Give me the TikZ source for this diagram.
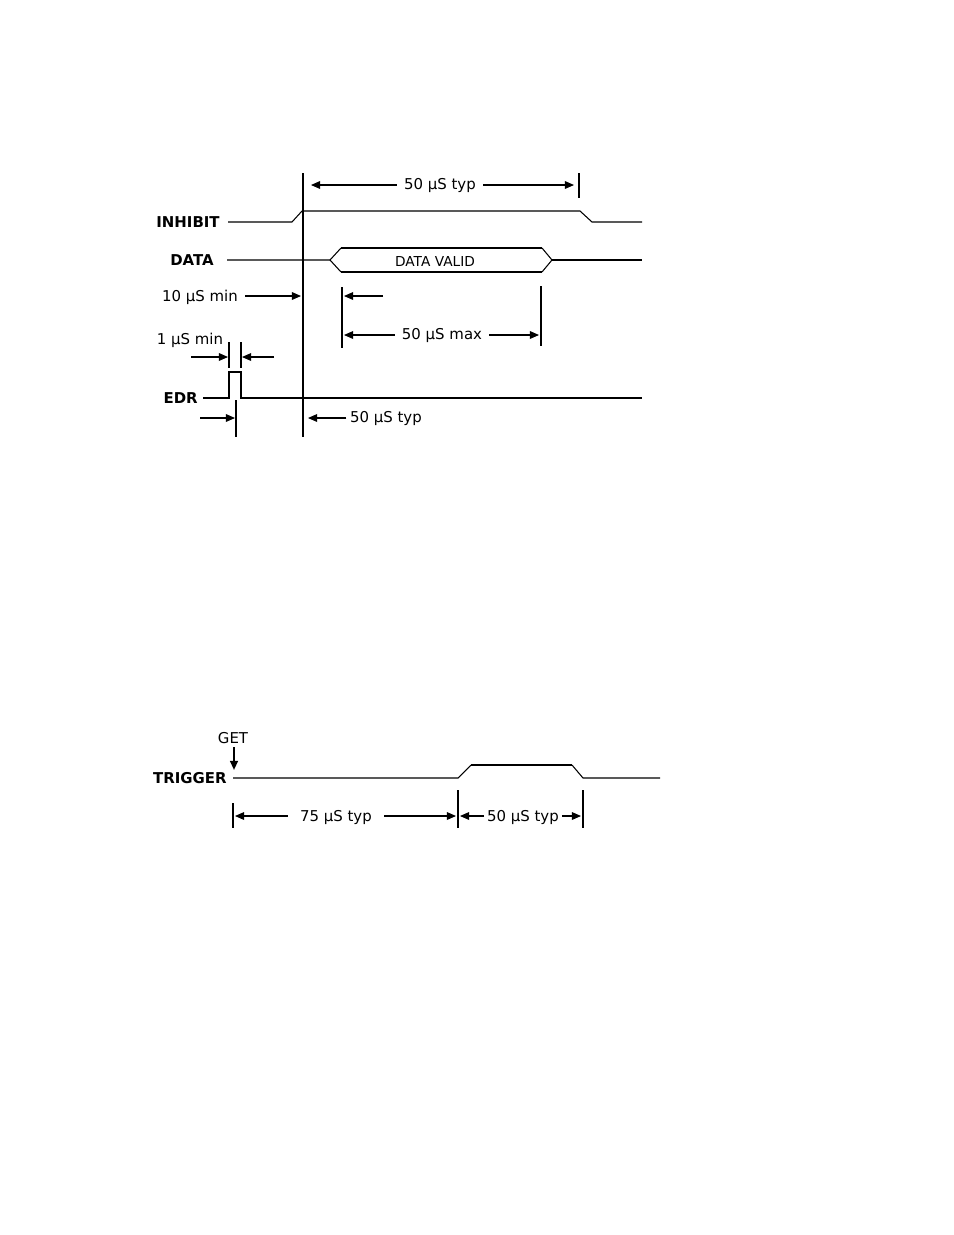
\documentclass[tikz,border=0pt]{standalone}
\usepackage{fontspec}
\setmainfont{DejaVu Sans}
\usetikzlibrary{arrows.meta}
\usetikzlibrary{positioning}

\begin{document}
\begin{tikzpicture}[x=0.02cm,y=-0.02cm,>={Triangle[length=5.2pt,width=4.4pt]},
  wire/.style={line width=0.6pt},
  heavy/.style={line width=1.13pt},
  sig/.style={font=\bfseries\fontsize{8.5}{10}\selectfont,anchor=east,inner sep=0pt},
  lab/.style={font=\fontsize{8.5}{10}\selectfont,inner xsep=4pt,inner ysep=0pt},
  dim/.style={wire,->}]

\useasboundingbox (0,0) rectangle (954,1235);

% inhibit, data, edr
\draw[heavy] (303,173) coordinate (zero) -- (303,437) coordinate (zerobot);
\draw[heavy] (579,173) coordinate (inhend) -- (579,198);
\node[lab] (inhtyp) at (440,186) {50 µS typ};
\draw[dim] (inhtyp.west |- 0,185) -- (311,185);
\draw[dim] (inhtyp.east |- 0,185) -- (574,185);

\node[sig] (inh) at (220,222) {INHIBIT};
\draw[wire] (inh.east) ++(8,0) -- (292,222) -- (302,211) -- (580,211) -- (592,222) -- (642,222);

\node[sig] (data) at (214,260) {DATA};
\draw[wire] (data.east) ++(13,0) -- (330,260) -- (341,248);
\draw[wire] (330,260) -- (341,272);
\draw[heavy] (341,248) -- (542,248);
\draw[heavy] (341,272) -- (542,272);
\draw[wire] (542,248) -- (552,260) -- (542,272);
\draw[wire] (552,260) -- (642,260);
\node[font=\fontsize{7.8}{9}\selectfont] (valid) at (435,261) {DATA VALID};

\node[lab] (tenmin) at (200,297) {10 µS min};
\draw[dim] (tenmin.east |- 0,296) -- (301,296);
\draw[wire] (342,287) -- (342,348);
\draw[wire] (541,286) -- (541,346);
\coordinate (setup) at (383,296);
\draw[dim] (setup) -- (344,296);
\node[lab] (maxtyp) at (442,336) {50 µS max};
\draw[dim] (maxtyp.west |- 0,335) -- (344,335);
\draw[dim] (maxtyp.east |- 0,335) -- (539,335);

\node[lab,inner xsep=0pt] (onemin) at (190,340) {1 µS min};
\draw[heavy] (229,342) -- (229,368);
\draw[heavy] (241,342) -- (241,368);
\coordinate (pl) at (191,357);
\coordinate (pr) at (274,357);
\draw[dim] (pl) -- (228,357);
\draw[dim] (pr) -- (242,357);

\node[sig] (edr) at (198,398) {EDR};
\draw[heavy] (edr.east) ++(5,0) -- (229,398) -- (229,372) -- (241,372) -- (241,398) -- (642,398);

\draw[wire] (236,400) -- (236,437);
\coordinate (el) at (200,418);
\draw[dim] (el) -- (235,418);
\node[lab,inner xsep=2pt] (edrtyp) at (386,419) {50 µS typ};
\draw[dim] (edrtyp.west |- 0,418) -- (308,418);

% trigger
\node[lab] (get) at (233,738) {GET};
\draw[dim,heavy] (get.south) ++(1,3) -- (234,770);

\node[sig] (trig) at (227,778) {TRIGGER};
\draw[wire] (trig.east) ++(6,0) -- (458,778) -- (471,765);
\draw[heavy] (471,765) -- (572,765);
\draw[wire] (572,765) -- (583,778) -- (660,778);

\draw[heavy] (233,803) -- (233,828);
\draw[wire] (458,790) -- (458,828);
\draw[wire] (583,790) -- (583,828);
\node[lab,inner xsep=7pt] (seventy) at (336,817) {75 µS typ};
\draw[dim] (seventy.west |- 0,816) -- (235,816);
\draw[dim] (seventy.east |- 0,816) -- (456,816);
\node[lab,inner xsep=1.5pt] (fifty) at (523,817) {50 µS typ};
\draw[dim] (fifty.west |- 0,816) -- (460,816);
\draw[dim] (fifty.east |- 0,816) -- (581,816);
\end{tikzpicture}
\end{document}
